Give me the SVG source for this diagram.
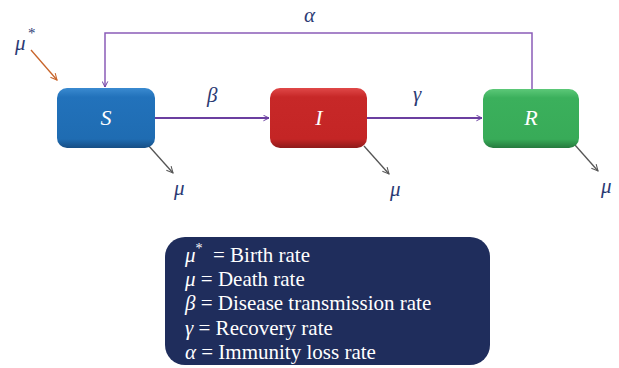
<svg xmlns="http://www.w3.org/2000/svg" width="619" height="368" viewBox="0 0 619 368">
<style>
.lbl{font-style:italic;font-size:21px;fill:#2b3a74}
.nt{font-style:italic;font-size:22px;fill:#ffffff;text-anchor:middle}
.lg{font-size:21px;fill:#ffffff}
.flow{stroke:#6b3fa0;stroke-width:2;fill:none}
.loop{stroke:#8a5cb8;stroke-width:1.5;fill:none}
.death{stroke:#555;stroke-width:1.3;fill:none}
</style>
<defs>
<marker id="ap" viewBox="0 0 10 10" refX="9" refY="5" markerWidth="7" markerHeight="7" markerUnits="userSpaceOnUse" orient="auto"><path d="M1,1 L9,5 L1,9" fill="none" stroke="#6b3fa0" stroke-width="1.4"/></marker>
<marker id="ag" viewBox="0 0 10 10" refX="9" refY="5" markerWidth="8" markerHeight="8" markerUnits="userSpaceOnUse" orient="auto"><path d="M1,1 L9,5 L1,9" fill="none" stroke="#555" stroke-width="1.3"/></marker>
<marker id="ao" viewBox="0 0 10 10" refX="9" refY="5" markerWidth="8" markerHeight="8" markerUnits="userSpaceOnUse" orient="auto"><path d="M1,1 L9,5 L1,9" fill="none" stroke="#c8642a" stroke-width="1.3"/></marker>
<linearGradient id="gs" x1="0" y1="0" x2="0" y2="1"><stop offset="0" stop-color="#3a8ad0"/><stop offset="0.15" stop-color="#2272bb"/><stop offset="0.85" stop-color="#1f6cb2"/><stop offset="1" stop-color="#164e85"/></linearGradient>
<linearGradient id="gi" x1="0" y1="0" x2="0" y2="1"><stop offset="0" stop-color="#e04848"/><stop offset="0.15" stop-color="#c72828"/><stop offset="0.85" stop-color="#c42525"/><stop offset="1" stop-color="#8e1a1a"/></linearGradient>
<linearGradient id="gr" x1="0" y1="0" x2="0" y2="1"><stop offset="0" stop-color="#5cc878"/><stop offset="0.15" stop-color="#3bb05c"/><stop offset="0.85" stop-color="#38ab58"/><stop offset="1" stop-color="#267a3e"/></linearGradient>
</defs>
<g id="connectors" font-family="Liberation Serif, serif">
<path class="loop" d="M532,89 V33 H105 V87" marker-end="url(#ap)"/>
<line class="flow" x1="155" y1="118" x2="269" y2="118" marker-end="url(#ap)"/>
<line class="flow" x1="367" y1="118" x2="482" y2="118" marker-end="url(#ap)"/>
<line x1="31" y1="50" x2="57" y2="80" stroke="#c8642a" stroke-width="1.3" marker-end="url(#ao)"/>
<line class="death" x1="148" y1="145" x2="173" y2="173" marker-end="url(#ag)"/>
<line class="death" x1="364" y1="146" x2="389" y2="174" marker-end="url(#ag)"/>
<line class="death" x1="575" y1="145" x2="598" y2="171" marker-end="url(#ag)"/>
<text class="lbl" x="304" y="22">α</text>
<text class="lbl" x="207" y="102">β</text>
<text class="lbl" x="413" y="101">γ</text>
<text class="lbl" x="15" y="50">μ</text>
<text class="lbl" x="28" y="38" style="font-size:15px;font-style:normal">*</text>
<text class="lbl" x="174" y="195">μ</text>
<text class="lbl" x="390" y="196">μ</text>
<text class="lbl" x="601" y="193">μ</text>
</g>
<g id="node-S" font-family="Liberation Serif, serif">
<rect x="57" y="88" width="98" height="60" rx="10" fill="url(#gs)"/>
<text class="nt" x="106" y="125">S</text>
</g>
<g id="node-I" font-family="Liberation Serif, serif">
<rect x="270" y="88" width="97" height="60" rx="10" fill="url(#gi)"/>
<text class="nt" x="319" y="125">I</text>
</g>
<g id="node-R" font-family="Liberation Serif, serif">
<rect x="483" y="89" width="96" height="59" rx="10" fill="url(#gr)"/>
<text class="nt" x="531" y="125">R</text>
</g>
<g id="legend" font-family="Liberation Serif, serif">
<rect x="165" y="237" width="325" height="128" rx="20" fill="#1f2d5c"/>
<text class="lg" x="185" y="262"><tspan font-style="italic">μ</tspan><tspan font-size="14" dy="-9">*</tspan><tspan dy="9" x="213">= Birth rate</tspan></text>
<text class="lg" x="185" y="286"><tspan font-style="italic">μ</tspan> = Death rate</text>
<text class="lg" x="185" y="310"><tspan font-style="italic">β</tspan> = Disease transmission rate</text>
<text class="lg" x="185" y="335"><tspan font-style="italic">γ</tspan> = Recovery rate</text>
<text class="lg" x="185" y="359"><tspan font-style="italic">α</tspan> = Immunity loss rate</text>
</g>
</svg>
